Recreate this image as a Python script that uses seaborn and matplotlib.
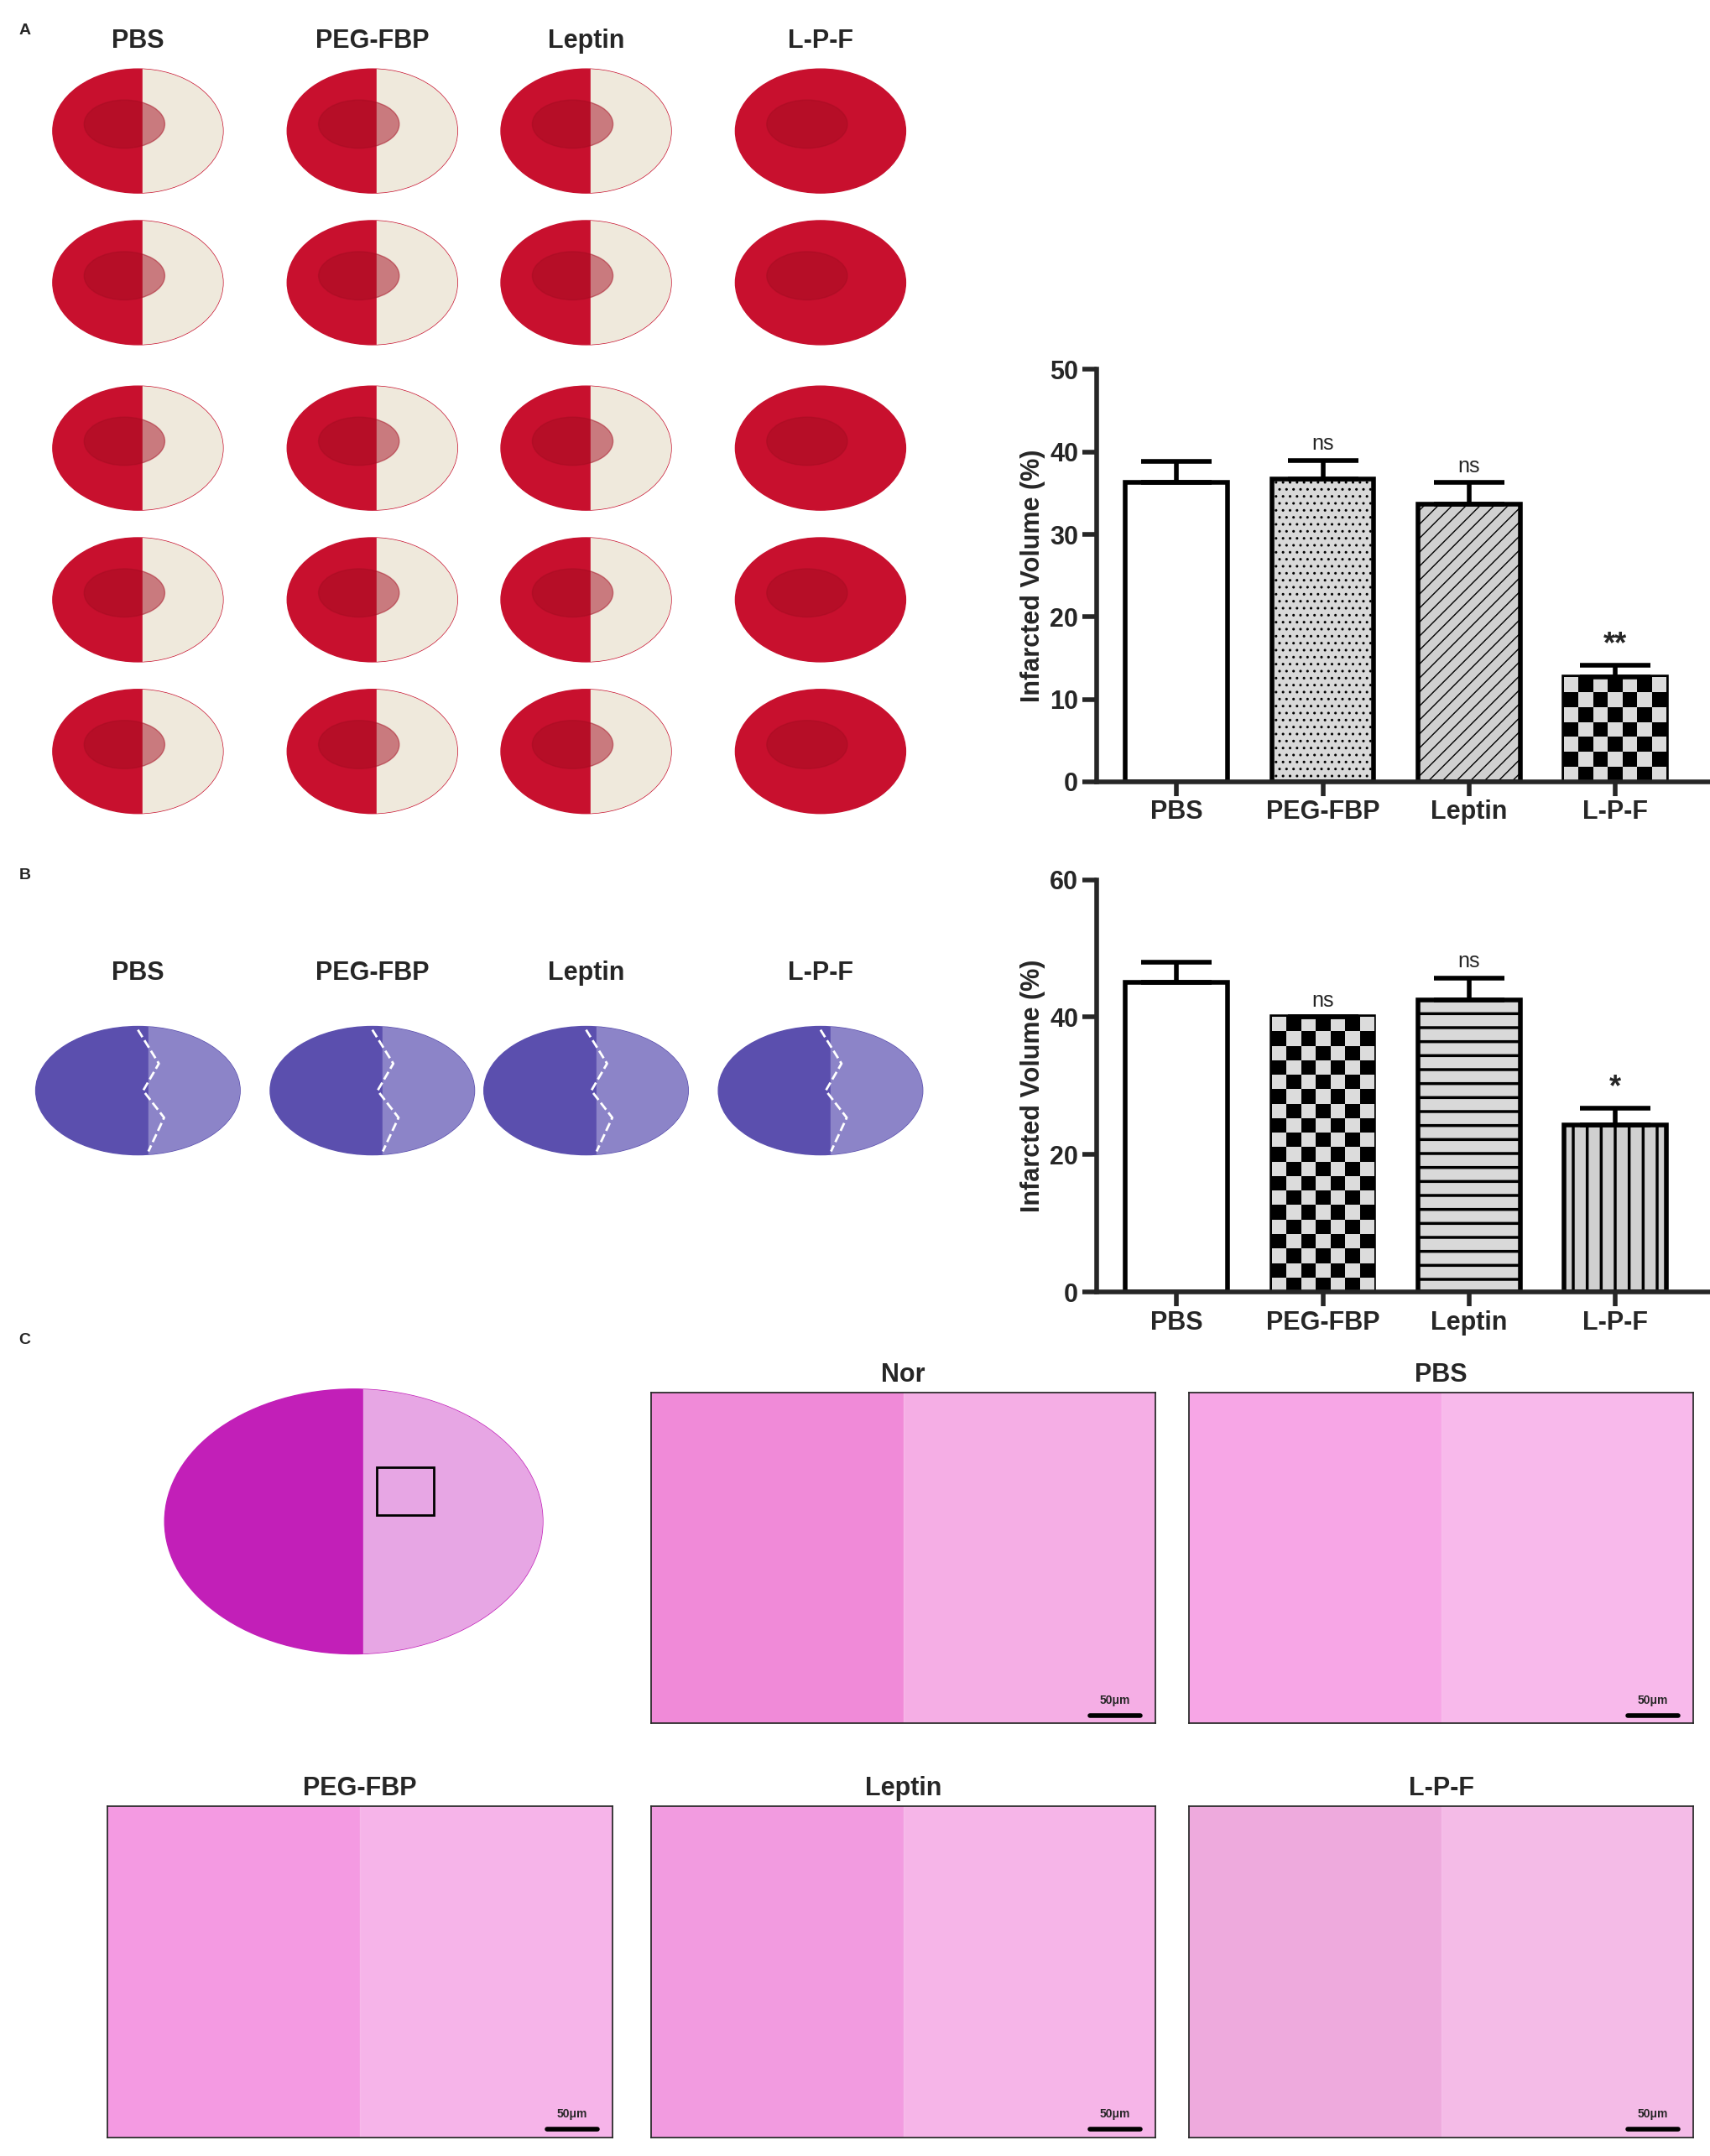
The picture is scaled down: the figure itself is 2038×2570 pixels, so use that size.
"""Recreate the infarct figure: TTC slices, Nissl slices, H&E panels and two bar charts."""

import numpy as np
import pandas as pd
import matplotlib
matplotlib.use("Agg")
import matplotlib.pyplot as plt
from matplotlib.patches import Ellipse, Rectangle
import seaborn as sns

groups = ["PBS", "PEG-FBP", "Leptin", "L-P-F"]
ttc_mean = [36.3, 36.7, 33.7, 12.7]
ttc_sem = [2.6, 2.3, 2.6, 1.4]
ttc_sig = ["", "ns", "ns", "**"]
nissl_mean = [45.0, 40.0, 42.5, 24.3]
nissl_sem = [3.0, 0.0, 3.2, 2.4]
nissl_sig = ["", "ns", "ns", "*"]
he_titles = ["Nor", "PBS", "PEG-FBP", "Leptin", "L-P-F"]

W, H = 2038, 2570
S = 2038 / 1240  # reference screenshot -> output pixels

sns.set_theme(style="ticks")
plt.rcParams["font.family"] = ["Liberation Sans", "DejaVu Sans"]
plt.rcParams["font.weight"] = "bold"

fig = plt.figure(figsize=(W / 100, H / 100), dpi=100)


def box(x0, y0, x1, y1):
    """Screenshot px box -> figure fraction [l, b, w, h]."""
    return [x0 * S / W, 1 - y1 * S / H, (x1 - x0) * S / W, (y1 - y0) * S / H]


def label(x, y, txt, size=22):
    fig.text(x * S / W, 1 - y * S / H, txt, ha="center", va="center",
             fontsize=size, fontweight="bold")


# ---- Panel A: TTC slices (placeholders) ---------------------------------
label(18, 22, "A", 14)
cols = [100, 270, 425, 595]
for cx, g in zip(cols, groups):
    label(cx, 30, g)
infarct = [1, 1, 1, 0]
for r, cy in enumerate([95, 205, 325, 435, 545]):
    for c, cx in enumerate(cols):
        ax = fig.add_axes(box(cx - 65, cy - 50, cx + 65, cy + 50))
        ax.set_xlim(-1, 1); ax.set_ylim(-1, 1); ax.axis("off")
        ax.add_patch(Ellipse((0, 0), 1.9, 1.8, color="#c8102e"))
        if infarct[c]:
            ax.add_patch(Rectangle((0.05, -1), 1, 2, color="#efe9dc",
                                   clip_path=ax.patches[0]))
        ax.add_patch(Ellipse((-0.15, 0.1), 0.9, 0.7, color="#a50d22", alpha=0.5))

# ---- Panel B: Nissl slices ----------------------------------------------
label(18, 635, "B", 14)
for cx, g in zip(cols, groups):
    label(cx, 706, g)
    ax = fig.add_axes(box(cx - 76, 742, cx + 76, 840))
    ax.set_xlim(-1, 1); ax.set_ylim(-1, 1); ax.axis("off")
    e = Ellipse((0, 0), 1.95, 1.9, color="#5b4fae")
    ax.add_patch(e)
    ax.add_patch(Rectangle((0.1, -1), 1, 2, color="#8c84c8", clip_path=e))
    ax.plot([0.0, 0.2, 0.05, 0.25, 0.1], [0.9, 0.4, 0.0, -0.4, -0.9],
            ls="--", color="white", lw=2)

# ---- Panel C: H&E -------------------------------------------------------
label(18, 972, "C", 14)
ax = fig.add_axes(box(118, 1005, 395, 1202))
ax.set_xlim(-1, 1); ax.set_ylim(-1, 1); ax.axis("off")
e = Ellipse((0, 0), 1.98, 1.95, color="#c21fb8")
ax.add_patch(e)
ax.add_patch(Rectangle((0.05, -1), 1, 2, color="#e7a6e4", clip_path=e))
ax.add_patch(Rectangle((0.12, 0.05), 0.3, 0.35, fill=False, ec="black", lw=2))

he_boxes = [(472, 1010, 838, 1250), (862, 1010, 1228, 1250),
            (78, 1310, 444, 1550), (472, 1310, 838, 1550), (862, 1310, 1228, 1550)]
he_colors = ["#f08ad8", "#f7a6e6", "#f49ae2", "#f29be0", "#eeaadd"]
for t, (x0, y0, x1, y1), col in zip(he_titles, he_boxes, he_colors):
    label((x0 + x1) / 2, y0 - 13, t)
    ax = fig.add_axes(box(x0, y0, x1, y1))
    ax.set_xlim(0, 1); ax.set_ylim(0, 1)
    ax.set_xticks([]); ax.set_yticks([])
    ax.set_facecolor(col)
    ax.add_patch(Rectangle((0.5, 0), 0.5, 1, color="#f9c7ef", alpha=0.6))
    ax.plot([0.87, 0.97], [0.025, 0.025], color="black", lw=4)
    ax.text(0.92, 0.06, "50μm", ha="center", fontsize=10, fontweight="bold")


# ---- Bar charts ---------------------------------------------------------
def checker(ax, bar, n=7):
    x0, w, h = bar.get_x(), bar.get_width(), bar.get_height()
    p0 = ax.transData.transform((x0, 0))
    p1 = ax.transData.transform((x0 + w, h))
    rows = max(1, int(round(n * (p1[1] - p0[1]) / (p1[0] - p0[0]))))
    ii, jj = np.indices((rows, n))
    ax.imshow((ii + jj) % 2, cmap="Greys", vmin=-0.3, vmax=1,
              extent=(x0, x0 + w, 0, h), aspect="auto", origin="lower",
              clip_path=bar, zorder=bar.get_zorder() + 0.1, interpolation="nearest")


def bars(rect, means, sems, sigs, ymax, yticks, styles):
    ax = fig.add_axes(box(*rect))
    df = pd.DataFrame({"group": groups, "value": means})
    sns.barplot(data=df, x="group", y="value", ax=ax, color="white",
                edgecolor="black", linewidth=4, width=0.7, errorbar=None)
    plt.rcParams["hatch.linewidth"] = 2.5
    ax.set_ylim(0, ymax)
    ax.set_xlim(-0.55, 3.65)
    for bar, (fc, hatch) in zip(ax.patches, styles):
        bar.set_facecolor(fc)
        if hatch == "checker":
            checker(ax, bar)
        elif hatch:
            bar.set_hatch(hatch)
    ax.errorbar(range(4), means, yerr=[[0] * 4, sems], fmt="none",
                ecolor="black", elinewidth=4, capsize=30, capthick=4, zorder=5)
    for i, (m, e, s) in enumerate(zip(means, sems, sigs)):
        if s:
            ax.text(i, m + e + ymax * 0.015, s, ha="center", va="bottom",
                    fontsize=18 if s == "ns" else 26,
                    fontweight="normal" if s == "ns" else "bold")
    ax.set_ylim(0, ymax)
    ax.set_xlim(-0.55, 3.65)
    ax.set_yticks(yticks)
    ax.set_xlabel("")
    ax.set_ylabel("Infarcted Volume (%)", fontsize=22, fontweight="bold")
    ax.tick_params(width=4, length=12, labelsize=22)
    for lab in ax.get_xticklabels() + ax.get_yticklabels():
        lab.set_fontweight("bold")
    for sp in ["left", "bottom"]:
        ax.spines[sp].set_linewidth(4)
    sns.despine(ax=ax)
    return ax


bars((795, 268, 1240, 567), ttc_mean, ttc_sem, ttc_sig, 50, range(0, 51, 10),
     [("white", None), ("#d9d9d9", ".."), ("#d0d0d0", "//"), ("white", "checker")])
bars((795, 638, 1240, 937), nissl_mean, nissl_sem, nissl_sig, 60, range(0, 61, 20),
     [("white", None), ("white", "checker"), ("#d9d9d9", "-"), ("#d0d0d0", "|")])

fig.savefig("out.png", dpi=100)
